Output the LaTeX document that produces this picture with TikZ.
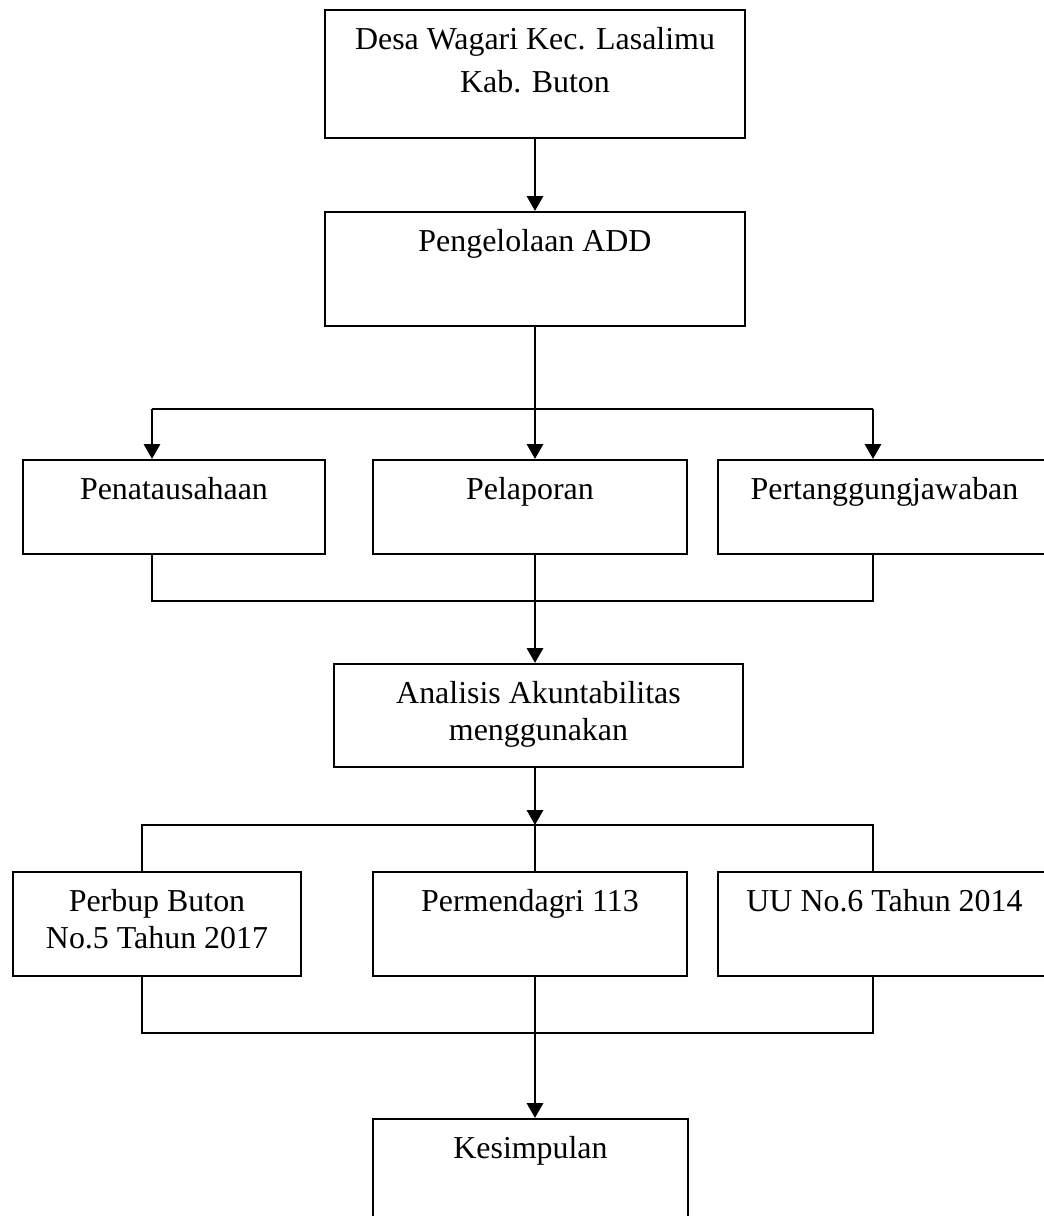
\documentclass[tikz,border=0pt]{standalone}
\usepackage{fontspec}
\setmainfont{Liberation Serif}
\usetikzlibrary{arrows.meta}
\newlength{\satuan}
\setlength{\satuan}{0.376pt}
\newcommand{\isikotak}[4][13.8pt]{%
  \parbox[c][#3\satuan][t]{#2\satuan}{\centering\baselineskip=#1\relax\rule{0pt}{15pt}#4}}
\tikzset{
  kotak/.style={draw, line width=0.75pt, inner sep=0pt, anchor=north west,
    font=\fontsize{12pt}{13.8pt}\selectfont},
  garis/.style={line width=0.75pt},
  panah/.style={line width=1.1pt, -{Triangle[width=6pt,length=5.6pt]}}
}
\begin{document}
\begin{tikzpicture}[x=0.376pt,y=-0.376pt]
    \useasboundingbox (0,0) rectangle (1044,1216);
    \clip (0,0) rectangle (1044,1216);
    % kotak
    \node[kotak] (desa) at (324,9) {\isikotak[16.2pt]{420}{128}{Desa Wagari Kec. Lasalimu\\Kab. Buton}};
    \node[kotak] (kelola) at (324,211) {\isikotak{420}{114}{Pengelolaan ADD}};
    \node[kotak] (tata) at (22,459) {\isikotak{302}{94}{Penatausahaan}};
    \node[kotak] (lapor) at (372,459) {\isikotak{314}{94}{Pelaporan}};
    \node[kotak] (tanggung) at (717,459) {\isikotak{333}{94}{Pertanggungjawaban}};
    \node[kotak] (analisis) at (333,663) {\isikotak{409}{103}{Analisis Akuntabilitas\\menggunakan}};
    \node[kotak] (perbup) at (12,871) {\isikotak{288}{104}{Perbup Buton\\No.5 Tahun 2017}};
    \node[kotak] (mendagri) at (372,871) {\isikotak{314}{104}{Permendagri 113}};
    \node[kotak] (uu) at (717,871) {\isikotak{333}{104}{UU No.6 Tahun 2014}};
    \node[kotak] (simpul) at (372,1118) {\isikotak{315}{114}{Kesimpulan}};
    % titik cabang
    \coordinate (atas1) at (152,409);
    \coordinate (atas2) at (873,409);
    \coordinate (bawah1) at (152,601);
    \coordinate (bawah2) at (873,601);
    \coordinate (atas3) at (142,825);
    \coordinate (atas4) at (873,825);
    \coordinate (bawah3) at (142,1033);
    \coordinate (bawah4) at (873,1033);
    % garis dan panah
    \draw[panah] (desa.south) -- (kelola.north);
    \draw[panah] (kelola.south) -- (kelola.south |- lapor.north);
    \draw[garis] (atas1) -- (atas2);
    \draw[panah] (atas1) -- (atas1 |- tata.north);
    \draw[panah] (atas2) -- (atas2 |- tanggung.north);
    \draw[garis] (bawah1 |- tata.south) -- (bawah1) -- (bawah2) -- (bawah2 |- tanggung.south);
    \draw[panah] (kelola.south |- lapor.south) -- (kelola.south |- analisis.north);
    \draw[panah] (kelola.south |- analisis.south) -- (kelola.south |- atas3);
    \draw[garis] (atas3 |- perbup.north) -- (atas3) -- (atas4) -- (atas4 |- uu.north);
    \draw[garis] (kelola.south |- atas3) -- (kelola.south |- mendagri.north);
    \draw[garis] (bawah3 |- perbup.south) -- (bawah3) -- (bawah4) -- (bawah4 |- uu.south);
    \draw[panah] (kelola.south |- mendagri.south) -- (kelola.south |- simpul.north);
\end{tikzpicture}
\end{document}
